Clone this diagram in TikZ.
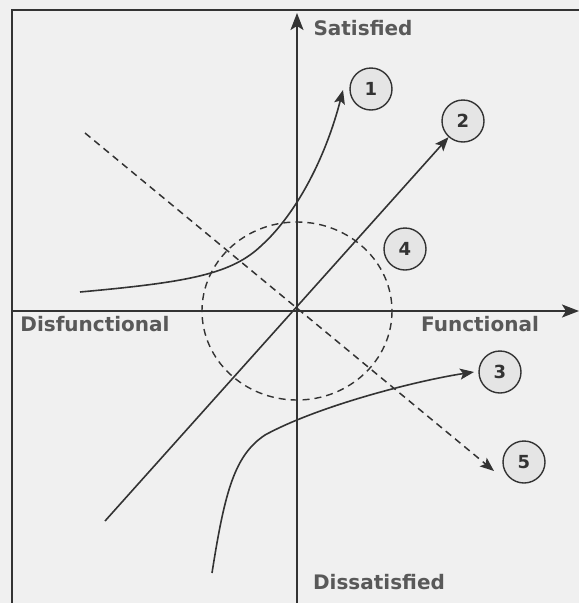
\documentclass[tikz,border=0pt]{standalone}
\usepackage{fontspec}
\setmainfont{DejaVu Sans}
\usetikzlibrary{arrows.meta}
\definecolor{ink}{HTML}{333333}
\definecolor{txt}{HTML}{595959}
\definecolor{bg}{HTML}{F0F0F0}
\begin{document}
\begin{tikzpicture}[x=1pt,y=-1pt,
  axis/.style={draw=ink,line width=2pt,-{Stealth[length=17pt,width=13pt,inset=4pt]}},
  curve/.style={draw=ink,line width=1.6pt,-{Stealth[length=14pt,width=11pt,inset=3pt]}},
  dash5/.style={draw=ink,line width=1.5pt,dash pattern=on 7pt off 5pt,-{Stealth[length=14pt,width=11pt,inset=3pt]}},
  num/.style={circle,draw=ink,line width=1.4pt,fill=gray!20,minimum size=42pt,inner sep=0pt,font=\fontsize{18}{18}\selectfont\bfseries,text=ink},
  lbl/.style={font=\fontsize{20}{20}\selectfont\bfseries,text=txt,inner sep=0pt}]
\useasboundingbox (0,0) rectangle (579,603);
\fill[bg] (0,0) rectangle (579,603);
% frame
\coordinate (fb) at (12,603);
\coordinate (ftl) at (12,10);
\coordinate (fr) at (579,10);
\draw[ink,line width=1.6pt] (fb) -- (ftl) -- (fr);
% axes
\coordinate (O) at (297,311);
\coordinate (yb) at (297,603);
\coordinate (yt) at (297,13);
\coordinate (xl) at (12,311);
\coordinate (xr) at (579,311);
\draw[axis] (yb) -- (yt);
\draw[axis] (xl) -- (xr);
% dashed ellipse
\draw[ink,line width=1.4pt,dash pattern=on 7pt off 5pt] (O) ellipse [x radius=95, y radius=89];
% labels
\node[lbl] (sat) at (363,28) {Satisfied};
\node[lbl] (fun) at (480,324) {Functional};
\node[lbl] (dis) at (95,324) {Disfunctional};
\node[lbl] (dsat) at (379,582) {Dissatisfied};
% numbered circles
\node[num] (n1) at (371,89) {1};
\node[num] (n2) at (463,121) {2};
\node[num] (n3) at (500,372) {3};
\node[num] (n4) at (405,249) {4};
\node[num] (n5) at (524,462) {5};
% line 2
\coordinate (s2) at (105,521);
\draw[curve] (s2) -- (n2);
% dashed line 5
\coordinate (s5) at (85,133);
\coordinate (e5) at (494,471);
\draw[dash5] (s5) -- (e5);
% curve 1
\coordinate (s1) at (80,292);
\coordinate (m1) at (262,245);
\coordinate (e1) at (343,90);
\draw[curve] (s1) .. controls (190,282) and (232,274) .. (m1) .. controls (295,215) and (325,160) .. (e1);
% curve 3
\coordinate (s3) at (212,573);
\coordinate (m3) at (265,435);
\coordinate (e3) at (474,372);
\draw[curve] (s3) .. controls (225,490) and (235,455) .. (m3) .. controls (320,405) and (420,380) .. (e3);
\end{tikzpicture}
\end{document}
